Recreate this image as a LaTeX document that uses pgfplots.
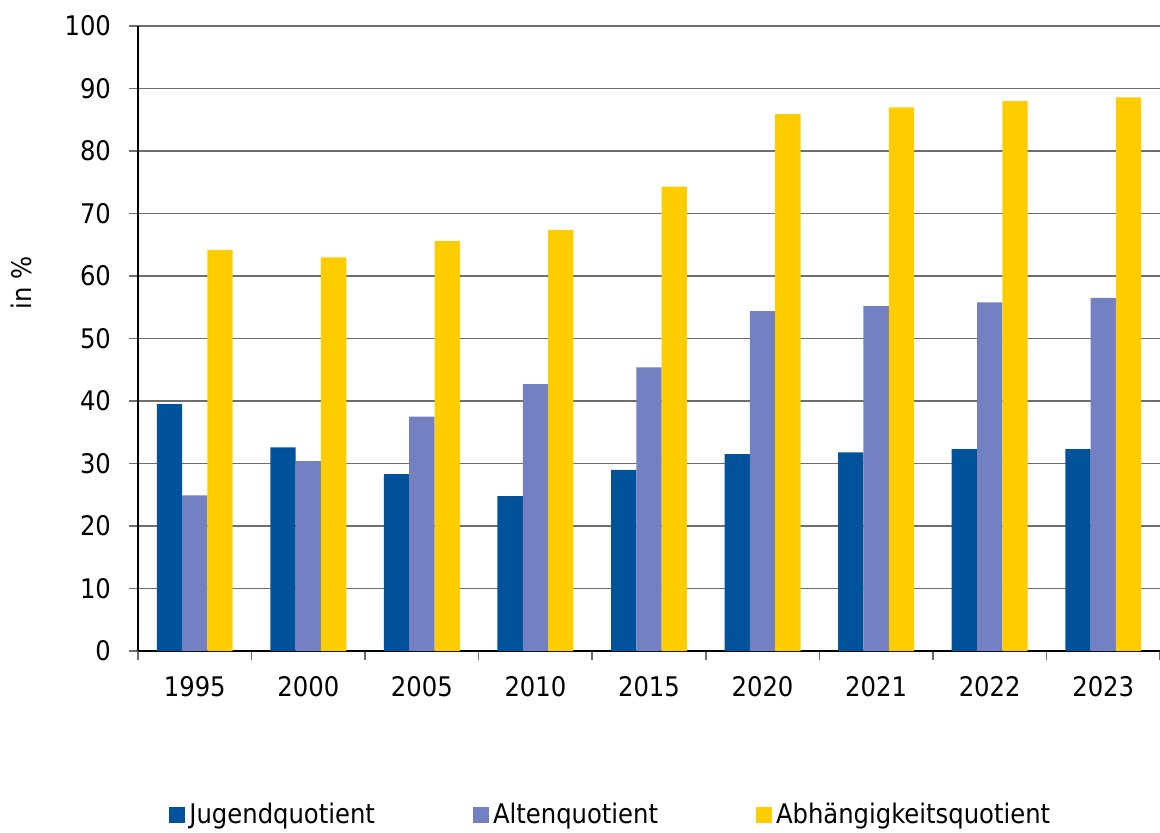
\documentclass[border=0pt]{standalone}
\usepackage{pgfplots}
\pgfplotsset{compat=1.18}
\usepackage{fontspec}
\setmainfont{DejaVu Sans Condensed}

\definecolor{jugend}{RGB}{0,82,155}
\definecolor{alten}{RGB}{115,128,194}
\definecolor{abh}{RGB}{255,204,0}
\definecolor{gridc}{RGB}{110,110,110}

\begin{document}
\begin{tikzpicture}[font=\fontsize{13.5pt}{16pt}\selectfont]
% page = 1160 x 832 px at 0.5pt per px; axis box lower left at (138,651) px
\path[use as bounding box] (-69pt,-90.5pt) rectangle (511pt,325.5pt);
\begin{axis}[
  scale only axis,
  width=511pt,
  height=312.5pt,
  ybar=0pt,
  bar width=12.65pt,
  xmin=-0.5, xmax=8.5,
  ymin=0, ymax=100,
  ytick={0,10,...,100},
  xtick={0,...,8},
  xticklabels={1995,2000,2005,2010,2015,2020,2021,2022,2023},
  minor xtick={-0.5,0.5,...,8.5},
  axis x line*=bottom,
  axis y line*=left,
  axis line style={black, line width=0.6pt},
  tick align=outside,
  major tick length=4.5pt,
  minor tick length=4.5pt,
  x tick style={draw=none},
  minor x tick style={draw=gridc, line width=0.8pt},
  y tick style={draw=gridc, line width=0.8pt},
  ymajorgrids,
  major grid style={gridc, line width=0.8pt},
  xticklabel style={yshift=-4.5pt},
  yticklabel style={xshift=-5.5pt},
  /pgf/number format/assume math mode=true,
  ylabel={in \%},
  ylabel style={at={(axis description cs:-0.1145,0.589)}, anchor=center},
  legend columns=3,
  legend style={draw=none, fill=none, at={(axis description cs:0.0245,-0.2624)}, anchor=west,
    /tikz/every even column/.append style={column sep=47pt},
    nodes={inner xsep=2pt}},
  legend image code/.code={\fill[#1] (0pt,-4pt) rectangle (8pt,4pt);},
]
\addplot[fill=jugend, draw=none] coordinates {(0,39.5) (1,32.6) (2,28.3) (3,24.8) (4,29.0) (5,31.5) (6,31.8) (7,32.3) (8,32.3)};
\addplot[fill=alten, draw=none] coordinates {(0,24.9) (1,30.4) (2,37.5) (3,42.7) (4,45.4) (5,54.4) (6,55.2) (7,55.8) (8,56.5)};
\addplot[fill=abh, draw=none] coordinates {(0,64.2) (1,63.0) (2,65.6) (3,67.4) (4,74.3) (5,85.9) (6,87.0) (7,88.0) (8,88.6)};
\legend{Jugendquotient,Altenquotient,Abhängigkeitsquotient}
\end{axis}
\end{tikzpicture}
\end{document}
